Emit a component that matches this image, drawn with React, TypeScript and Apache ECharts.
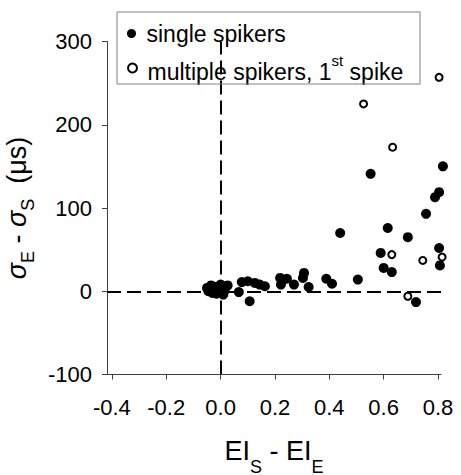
import React, { useEffect, useRef } from "react";
import * as echarts from "echarts";

const singleSpikers: number[][] = [
  [-0.05, 4], [-0.045, 0], [-0.04, 3], [-0.035, 7], [-0.03, -2], [-0.025, 3], [-0.02, 5],
  [-0.015, -3], [-0.01, 1], [-0.005, 6], [0, -1], [0, 8], [0.005, 3], [0.01, -4], [0.015, 1],
  [0.026, 7], [0.067, -1], [0.078, 11], [0.1, 12], [0.107, -12], [0.126, 10], [0.144, 8],
  [0.163, 6], [0.219, 16], [0.244, 15], [0.222, 8], [0.27, 8], [0.307, 22], [0.303, 16],
  [0.324, 5], [0.389, 15], [0.41, 9], [0.505, 14], [0.44, 70], [0.552, 141], [0.589, 46],
  [0.6, 28], [0.615, 76], [0.63, 23], [0.689, 65], [0.719, -13], [0.756, 93], [0.789, 113],
  [0.804, 119], [0.818, 150], [0.804, 52], [0.807, 31],
];

const multipleSpikers: number[][] = [
  [0.804, 257], [0.526, 225], [0.633, 173], [0.63, 44], [0.744, 37], [0.815, 41], [0.689, -6],
];

const xTicks = [-0.4, -0.2, 0, 0.2, 0.4, 0.6, 0.8];
const yTicks = [-100, 0, 100, 200, 300];

const FONT = "Liberation Sans, Arial, sans-serif";

export default function App() {
  const ref = useRef<HTMLDivElement>(null);
  useEffect(() => {
    if (!ref.current) return;
    const chart = echarts.init(ref.current, null, { renderer: "svg" });
    chart.setOption({
      animation: false,
      backgroundColor: "#ffffff",
      textStyle: { fontFamily: FONT },
      grid: {
        left: 107,
        right: 20,
        top: 41.5,
        bottom: 100.5,
        containLabel: false,
        outerBoundsMode: "none",
      },
      graphic: [
        {
          type: "rect",
          shape: { x: 117, y: 12, width: 303, height: 72 },
          style: { fill: "none", stroke: "#808080", lineWidth: 1 },
          z: 10,
        },
      ],
      legend: [
        {
          data: ["single spikers"],
          left: 122,
          top: 17,
          itemWidth: 20,
          itemHeight: 9,
          textStyle: { fontSize: 23, color: "#000", fontFamily: FONT },
          selectedMode: false,
        },
        {
          data: ["multiple spikers, 1st spike"],
          left: 122,
          top: 48,
          itemWidth: 20,
          itemHeight: 9,
          formatter: () => "{n|multiple spikers, 1}{sup|st}{n| spike}",
          textStyle: {
            fontSize: 23,
            color: "#000",
            fontFamily: FONT,
            rich: {
              n: { fontSize: 23, lineHeight: 30, verticalAlign: "bottom", fontFamily: FONT, color: "#000" },
              sup: { fontSize: 15, lineHeight: 15, verticalAlign: "top", fontFamily: FONT, color: "#000" },
            },
          },
          selectedMode: false,
        },
      ],
      xAxis: {
        type: "value",
        min: -0.418,
        max: 0.811,
        name: "{n|EI}{sub|S}{n| - EI}{sub|E}",
        nameLocation: "middle",
        nameGap: 63,
        nameTextStyle: {
          rich: {
            n: { fontSize: 27, lineHeight: 38, verticalAlign: "top", fontFamily: FONT, color: "#000" },
            sub: { fontSize: 18, lineHeight: 18, verticalAlign: "bottom", fontFamily: FONT, color: "#000" },
          },
        },
        axisLine: { show: true, onZero: false, lineStyle: { color: "#404040", width: 1 } },
        axisTick: { show: true, length: 5, customValues: xTicks, lineStyle: { color: "#404040" } },
        axisLabel: {
          customValues: xTicks,
          fontSize: 22,
          color: "#000",
          margin: 22,
          fontFamily: FONT,
          formatter: (v: number) => v.toFixed(1),
        },
        splitLine: { show: false },
      },
      yAxis: {
        type: "value",
        min: -100,
        max: 300,
        interval: 100,
        name: "{s|σ}{sub|E}{n| - }{s|σ}{sub|S}{n|  (μs)}",
        nameLocation: "middle",
        nameGap: 48,
        nameTextStyle: {
          rich: {
            s: { fontSize: 27, lineHeight: 34, verticalAlign: "top", fontStyle: "italic", fontFamily: FONT, color: "#000" },
            n: { fontSize: 27, lineHeight: 34, verticalAlign: "top", fontFamily: FONT, color: "#000" },
            sub: { fontSize: 18, lineHeight: 16, verticalAlign: "bottom", fontFamily: FONT, color: "#000" },
          },
        },
        axisLine: { show: true, onZero: false, lineStyle: { color: "#404040", width: 1 } },
        axisTick: { show: true, length: 5, lineStyle: { color: "#404040" } },
        axisLabel: {
          fontSize: 22,
          color: "#000",
          margin: 15,
          fontFamily: FONT,
          customValues: yTicks,
        },
        splitLine: { show: false },
      },
      series: [
        {
          name: "single spikers",
          type: "scatter",
          data: singleSpikers,
          symbol: "circle",
          symbolSize: 10,
          clip: false,
          itemStyle: { color: "#000", opacity: 1 },
          markLine: {
            silent: true,
            symbol: "none",
            label: { show: false },
            lineStyle: { color: "#000", width: 2, type: [14, 6] },
            data: [{ xAxis: 0 }, { yAxis: 0 }],
          },
        },
        {
          name: "multiple spikers, 1st spike",
          type: "scatter",
          data: multipleSpikers,
          symbol: "circle",
          symbolSize: 7,
          clip: false,
          itemStyle: { color: "#fff", borderColor: "#000", borderWidth: 2, opacity: 1 },
        },
      ],
    });
    return () => chart.dispose();
  }, []);
  return (
    <div
      ref={ref}
      style={{ position: "fixed", left: 0, top: 0, width: 461, height: 475 }}
    />
  );
}
